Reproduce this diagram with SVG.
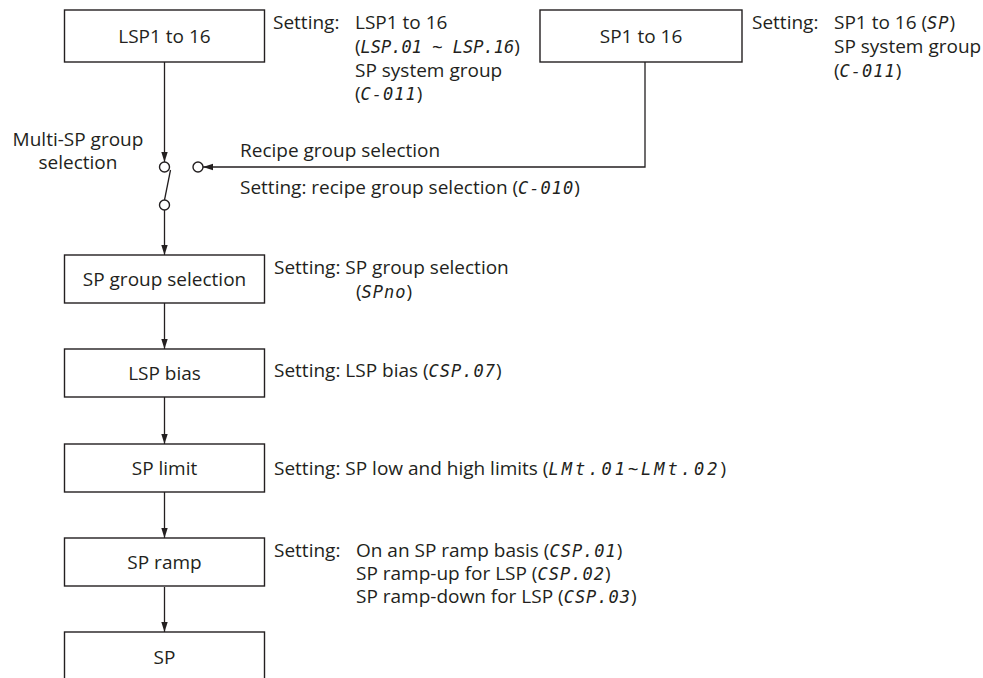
<svg xmlns="http://www.w3.org/2000/svg" width="983" height="678" viewBox="0 0 983 678">
  <style>
    .box { fill: #ffffff; stroke: #231f20; stroke-width: 1.4; }
    .wire { fill: none; stroke: #231f20; stroke-width: 1.3; }
    .term { fill: #ffffff; stroke: #231f20; stroke-width: 1.4; }
    text { font-family: "Open Sans", "Liberation Sans", sans-serif; font-size: 19px; fill: #231f20; }
    .mid { text-anchor: middle; }
    /* parameter codes as shown on the controller display */
    .seg { font-family: "DejaVu Sans Mono", "Liberation Mono", monospace; font-style: oblique; font-size: 17px; letter-spacing: 1px; }
    .seg.tight { letter-spacing: 0; }
    .seg.wide { letter-spacing: 3px; }
  </style>
  <defs>
    <marker id="arrow" viewBox="0 0 10 10" refX="10" refY="5" markerWidth="10" markerHeight="10" markerUnits="userSpaceOnUse" orient="auto">
      <path d="M0,1.8 L10,5 L0,8.2 Z" fill="#231f20"/>
    </marker>
  </defs>

  <rect width="983" height="678" fill="#ffffff"/>

  <!-- connectors -->
  <g id="connectors">
    <line class="wire" x1="164.5" y1="62" x2="164.5" y2="162" marker-end="url(#arrow)"/>
    <polyline class="wire" points="645,62 645,167 203,167" marker-end="url(#arrow)"/>
    <line class="wire" x1="170.5" y1="170" x2="164.5" y2="200"/>
    <line class="wire" x1="164.5" y1="210" x2="164.5" y2="255" marker-end="url(#arrow)"/>
    <line class="wire" x1="164.5" y1="303" x2="164.5" y2="349" marker-end="url(#arrow)"/>
    <line class="wire" x1="164.5" y1="397" x2="164.5" y2="444" marker-end="url(#arrow)"/>
    <line class="wire" x1="164.5" y1="492" x2="164.5" y2="538" marker-end="url(#arrow)"/>
    <line class="wire" x1="164.5" y1="587" x2="164.5" y2="632" marker-end="url(#arrow)"/>
  </g>

  <!-- group selector switch -->
  <g id="switch">
    <circle class="term" cx="164.5" cy="167" r="5"/>
    <circle class="term" cx="198" cy="167" r="5"/>
    <circle class="term" cx="164.5" cy="205" r="5"/>
    <text class="mid" x="78" y="146">Multi-SP group</text>
    <text class="mid" x="78" y="169">selection</text>
    <text x="240" y="157">Recipe group selection</text>
    <text x="240" y="194">Setting: recipe group selection (<tspan class="seg">C-010</tspan>)</text>
  </g>

  <g id="lsp-source">
    <rect class="box" x="64.5" y="10" width="200" height="52"/>
    <text class="mid" x="164.5" y="43">LSP1 to 16</text>
    <text x="273" y="29">Setting:</text>
    <text x="355" y="29">LSP1 to 16</text>
    <text x="355" y="53">(<tspan class="seg tight">LSP.01 ~ LSP.16</tspan>)</text>
    <text x="355" y="77">SP system group</text>
    <text x="355" y="100">(<tspan class="seg">C-011</tspan>)</text>
  </g>

  <g id="sp-source">
    <rect class="box" x="540" y="10" width="202" height="52"/>
    <text class="mid" x="641" y="43">SP1 to 16</text>
    <text x="752" y="29">Setting:</text>
    <text x="834" y="29">SP1 to 16 (<tspan class="seg">SP</tspan>)</text>
    <text x="834" y="53">SP system group</text>
    <text x="834" y="77">(<tspan class="seg">C-011</tspan>)</text>
  </g>

  <g id="sp-group-selection">
    <rect class="box" x="64.5" y="255" width="200" height="48"/>
    <text class="mid" x="164.5" y="286">SP group selection</text>
    <text x="274" y="274">Setting: SP group selection</text>
    <text x="356" y="298">(<tspan class="seg">SPno</tspan>)</text>
  </g>

  <g id="lsp-bias">
    <rect class="box" x="64.5" y="349" width="200" height="48"/>
    <text class="mid" x="164.5" y="380">LSP bias</text>
    <text x="274" y="377">Setting: LSP bias (<tspan class="seg">CSP.07</tspan>)</text>
  </g>

  <g id="sp-limit">
    <rect class="box" x="64.5" y="444" width="200" height="48"/>
    <text class="mid" x="164.5" y="475">SP limit</text>
    <text x="274" y="475">Setting: SP low and high limits (<tspan class="seg wide">LMt.01~LMt.02</tspan>)</text>
  </g>

  <g id="sp-ramp">
    <rect class="box" x="64.5" y="538" width="200" height="48"/>
    <text class="mid" x="164.5" y="569">SP ramp</text>
    <text x="274" y="557">Setting:</text>
    <text x="356" y="557">On an SP ramp basis (<tspan class="seg">CSP.01</tspan>)</text>
    <text x="356" y="580">SP ramp-up for LSP (<tspan class="seg">CSP.02</tspan>)</text>
    <text x="356" y="603">SP ramp-down for LSP (<tspan class="seg">CSP.03</tspan>)</text>
  </g>

  <g id="sp-output">
    <rect class="box" x="64.5" y="632" width="200" height="60"/>
    <text class="mid" x="164.5" y="664">SP</text>
  </g>
</svg>
